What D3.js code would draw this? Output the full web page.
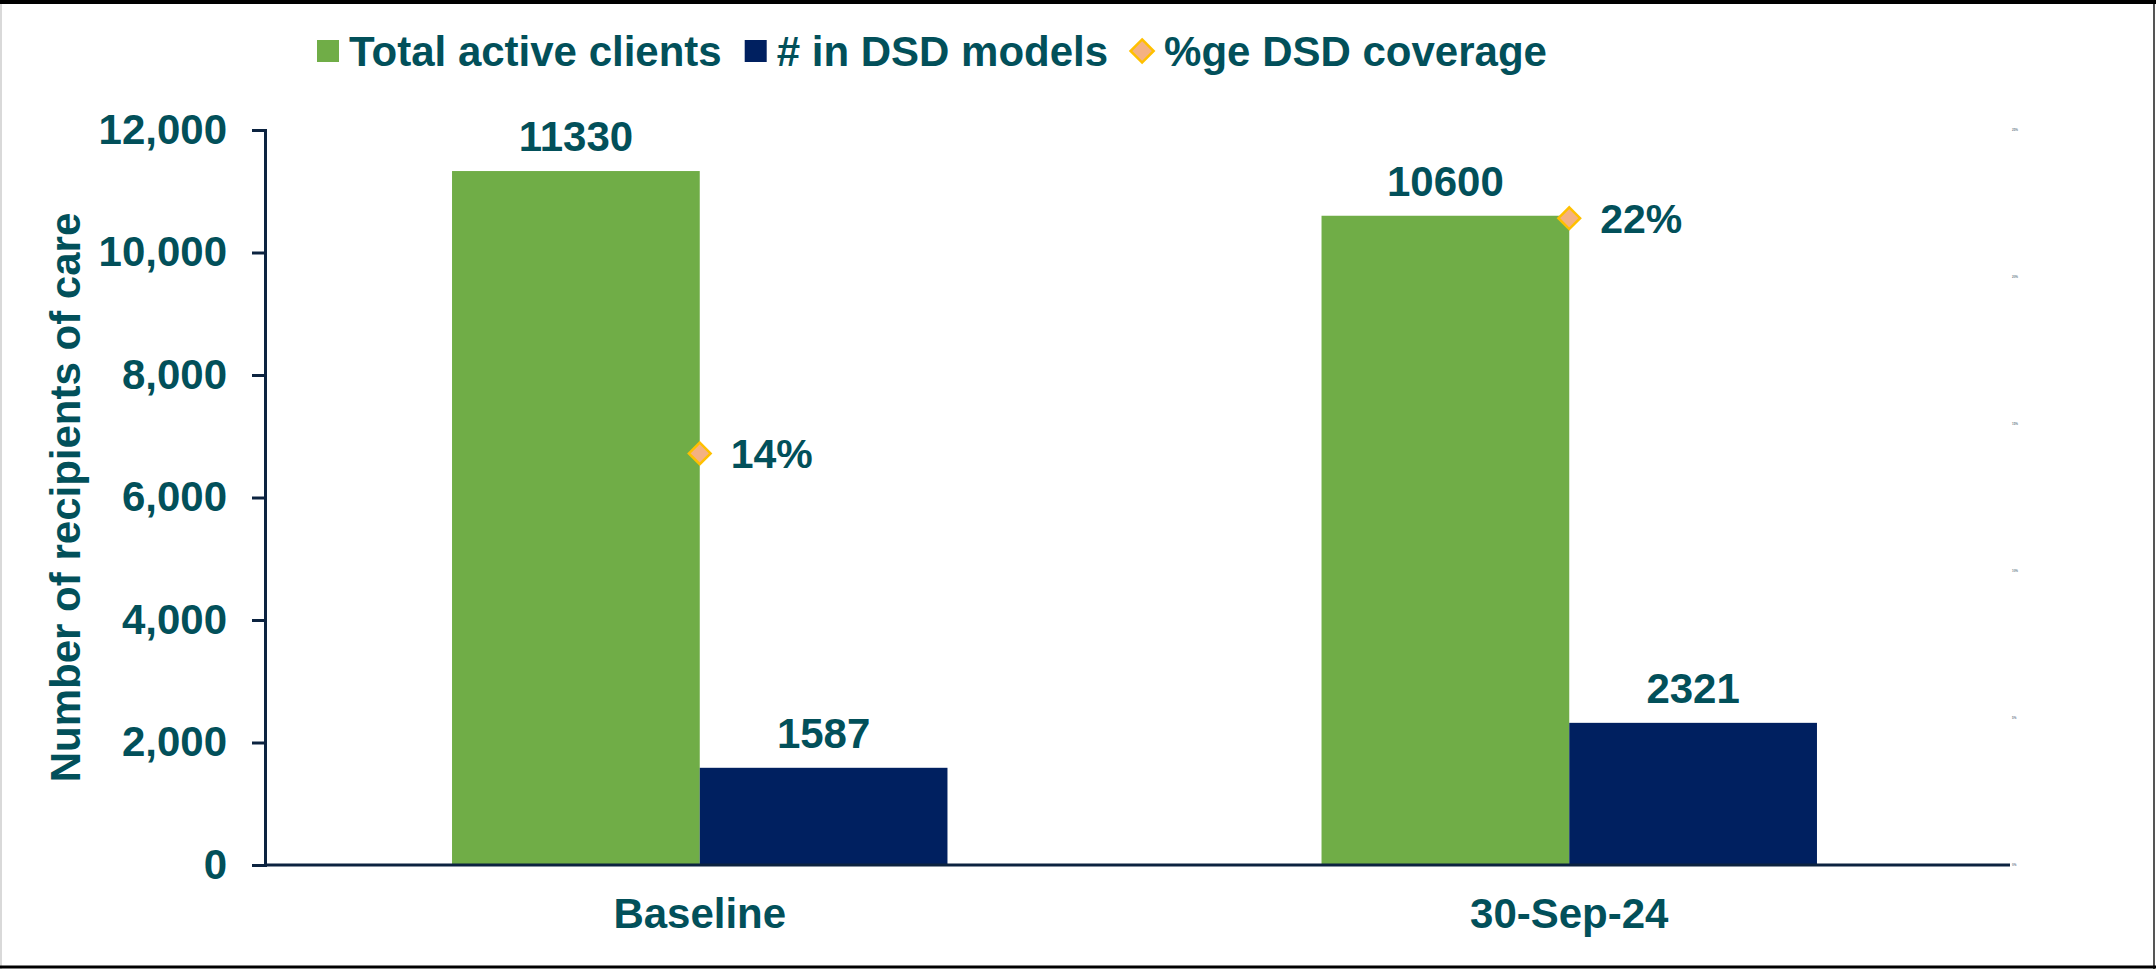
<!DOCTYPE html>
<html>
<head>
<meta charset="utf-8">
<script src="https://cdn.jsdelivr.net/npm/d3@7"></script>
<style>
  html, body { margin: 0; padding: 0; background: #fff; }
  svg { display: block; }
  text { font-family: Arial, "Liberation Sans", sans-serif; font-weight: bold; }
</style>
</head>
<body>
<svg id="chart" width="2156" height="969"></svg>
<script>
// ---- data ----
const categories = ["Baseline", "30-Sep-24"];
const seriesNames = ["Total active clients", "# in DSD models"];
const totalActive = [11330, 10600];
const inDSD = [1587, 2321];
const coverageName = "%ge DSD coverage";
const coverage = [0.14, 0.22];
const yTicks = [0, 2000, 4000, 6000, 8000, 10000, 12000];
const y2Ticks = [0, 0.05, 0.10, 0.15, 0.20, 0.25];

// ---- style ----
const textColor = "#02505A";
const axisColor = "#0C2340";
const barColors = ["#70AD47", "#002060"];
const diamondFill = "#F4B183";
const diamondStroke = "#FFC000";

const W = 2156, H = 969;
const margin = { left: 265, right: 146, top: 130, bottom: 104 };
const plotRight = W - margin.right;
const svg = d3.select("#chart");

// frame around the chart
svg.append("rect").attr("x", 0).attr("y", 0).attr("width", W).attr("height", H).attr("fill", "#fff");
svg.append("line").attr("x1", 1).attr("x2", 1).attr("y1", 0).attr("y2", H).attr("stroke", "#d9d9d9").attr("stroke-width", 2);
svg.append("line").attr("x1", W - 2).attr("x2", W - 2).attr("y1", 0).attr("y2", H).attr("stroke", "#555").attr("stroke-width", 2);
svg.append("line").attr("x1", 0).attr("x2", W).attr("y1", 2).attr("y2", 2).attr("stroke", "#000").attr("stroke-width", 4);
svg.append("line").attr("x1", 0).attr("x2", W).attr("y1", H - 2).attr("y2", H - 2).attr("stroke", "#000").attr("stroke-width", 3);

const x0 = d3.scaleBand().domain(categories).range([margin.left, plotRight - 6]).padding(0);
const x1 = d3.scaleBand().domain(seriesNames).range([0, x0.bandwidth()]).paddingInner(0).paddingOuter(0.755);
const y = d3.scaleLinear().domain([0, 12000]).range([H - margin.bottom, margin.top]);
const y2 = d3.scaleLinear().domain([0, 0.25]).range([H - margin.bottom, margin.top]);

const rows = categories.map((c, i) => ({ cat: c, vals: [totalActive[i], inDSD[i]], pct: coverage[i] }));

// bars
const groups = svg.append("g").selectAll("g").data(rows).join("g")
  .attr("transform", d => `translate(${x0(d.cat)},0)`);
groups.selectAll("rect").data(d => d.vals.map((v, k) => ({ key: seriesNames[k], v, k })))
  .join("rect")
  .attr("x", d => x1(d.key))
  .attr("y", d => y(d.v))
  .attr("width", x1.bandwidth())
  .attr("height", d => y(0) - y(d.v))
  .attr("fill", d => barColors[d.k]);

// value labels above bars
groups.selectAll("text.val").data(d => d.vals.map((v, k) => ({ key: seriesNames[k], v })))
  .join("text").attr("class", "val")
  .attr("x", d => x1(d.key) + x1.bandwidth() / 2)
  .attr("y", d => y(d.v) - 20)
  .attr("text-anchor", "middle")
  .attr("font-size", 42)
  .attr("fill", textColor)
  .text(d => d.v);

// y axis (left)
const yAxis = svg.append("g").attr("transform", `translate(${margin.left},0)`)
  .call(d3.axisLeft(y).tickValues(yTicks).tickFormat(d3.format(",")).tickSize(13).tickPadding(25));
yAxis.select(".domain").attr("stroke", axisColor).attr("stroke-width", 3);
yAxis.selectAll(".tick line").attr("stroke", axisColor).attr("stroke-width", 3);
yAxis.selectAll(".tick text").attr("fill", textColor).attr("font-size", 42)
  .style("font-family", "Arial, 'Liberation Sans', sans-serif").style("font-weight", "bold");

// secondary axis (right), labels drawn very small
const y2Axis = svg.append("g").attr("transform", `translate(${plotRight},0)`)
  .call(d3.axisRight(y2).tickValues(y2Ticks).tickFormat(d3.format(".0%")).tickSize(0).tickPadding(2));
y2Axis.select(".domain").remove();
y2Axis.selectAll(".tick text").attr("fill", "#6b7a8a").attr("font-size", 3)
  .style("font-family", "Arial, 'Liberation Sans', sans-serif");

// x axis: category labels plus a baseline spanning the whole plot
const xAxis = svg.append("g").attr("transform", `translate(0,${y(0)})`)
  .call(d3.axisBottom(x0).tickSize(0).tickPadding(33));
xAxis.select(".domain").remove();
xAxis.append("line").attr("x1", margin.left).attr("x2", plotRight)
  .attr("stroke", axisColor).attr("stroke-width", 3);
xAxis.selectAll(".tick text").attr("fill", textColor).attr("font-size", 42)
  .style("font-family", "Arial, 'Liberation Sans', sans-serif").style("font-weight", "bold");

// y axis title
svg.append("text")
  .attr("transform", `translate(80,${(y(0) + y(12000)) / 2}) rotate(-90)`)
  .attr("text-anchor", "middle")
  .attr("font-size", 42)
  .attr("fill", textColor)
  .text("Number of recipients of care");

// coverage markers on the secondary scale
const diamond = d3.symbol().type(d3.symbolDiamond2).size(300);
const marks = svg.append("g").selectAll("g").data(rows).join("g")
  .attr("transform", d => `translate(${x0(d.cat) + x0.bandwidth() / 2},${y2(d.pct)})`);
marks.append("path").attr("d", diamond).attr("fill", diamondFill).attr("stroke", diamondStroke).attr("stroke-width", 2.5);
marks.append("text")
  .attr("x", 31).attr("dy", "0.36em")
  .attr("font-size", 41)
  .attr("fill", textColor)
  .text(d => d3.format(".0%")(d.pct));

// legend
const legend = svg.append("g").attr("transform", "translate(317,51)");
let lx = 0;
const legendItems = [
  { name: seriesNames[0], type: "rect", color: barColors[0] },
  { name: seriesNames[1], type: "rect", color: barColors[1] },
  { name: coverageName, type: "diamond" }
];
legendItems.forEach((it, i) => {
  const g = legend.append("g").attr("transform", `translate(${lx},0)`);
  let textStart;
  if (it.type === "rect") {
    g.append("rect").attr("x", 0).attr("y", -11).attr("width", 22).attr("height", 22).attr("fill", it.color);
    textStart = 32;
  } else {
    g.append("path").attr("d", d3.symbol().type(d3.symbolDiamond2).size(340)())
      .attr("transform", "translate(13,0)")
      .attr("fill", diamondFill).attr("stroke", diamondStroke).attr("stroke-width", 2.5);
    textStart = 35;
  }
  const t = g.append("text").attr("x", textStart).attr("dy", "0.36em")
    .attr("font-size", 42).attr("fill", textColor).text(it.name);
  const w = t.node().getComputedTextLength();
  lx += textStart + w + (i === 0 ? 23 : 21);
});
</script>
</body>
</html>
